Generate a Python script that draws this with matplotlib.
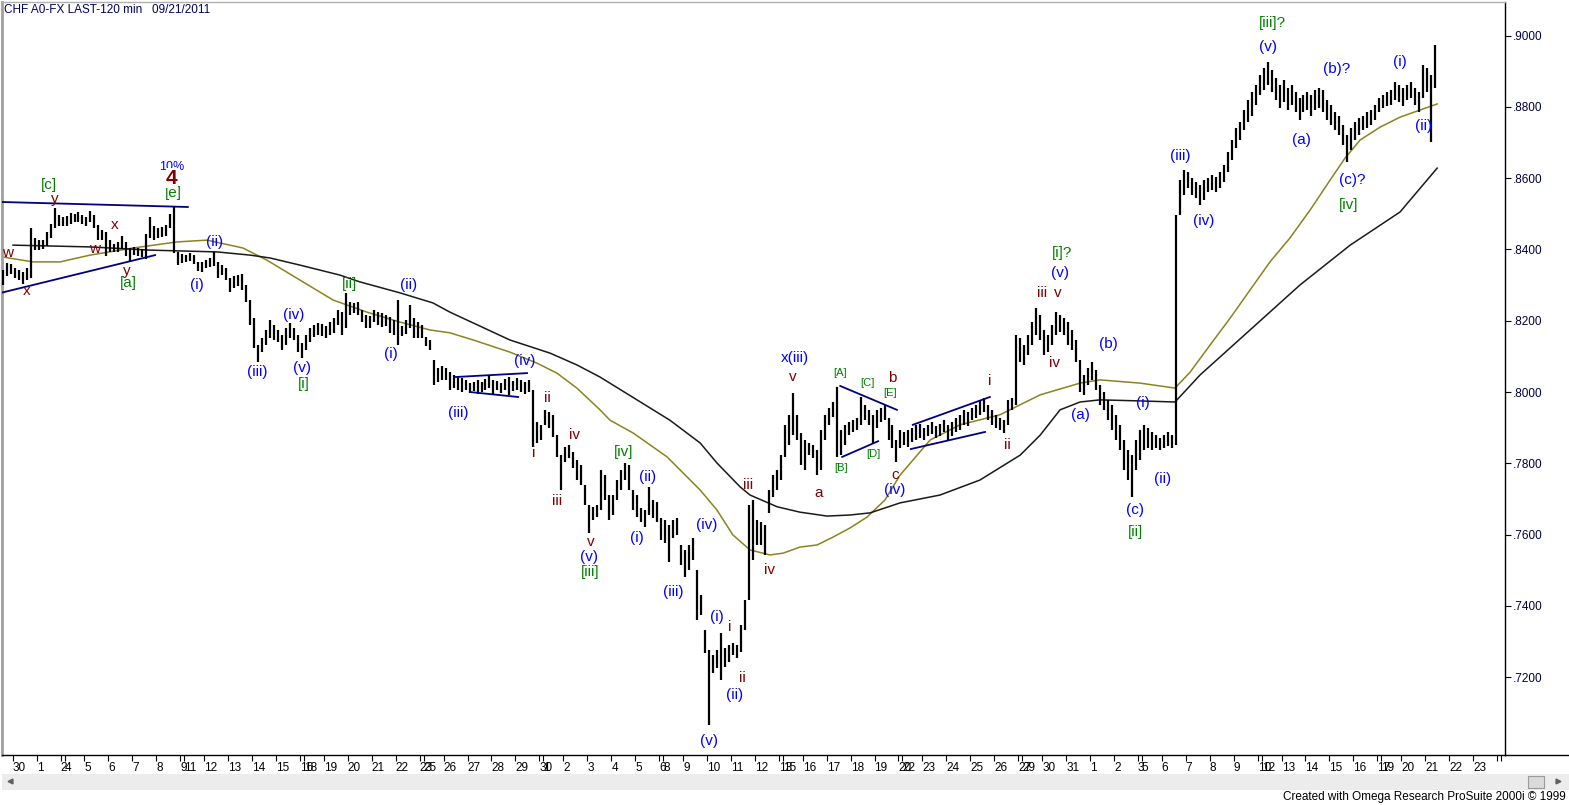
import datetime as dt
import numpy as np
import matplotlib
matplotlib.use('Agg')
import matplotlib.pyplot as plt
from matplotlib.lines import Line2D
from matplotlib.patches import Rectangle

plt.rcParams['font.family'] = ['Liberation Sans', 'DejaVu Sans']

# CHF 4-hour bars, prices in pips (x 0.0001)
bar_high = [
    8342, 8362, 8359, 8348, 8342, 8337, 8348, 8460, 8432, 8426,
    8426, 8449, 8471, 8516, 8497, 8491, 8494, 8502, 8499, 8505,
    8497, 8491, 8508, 8497, 8468, 8454, 8449, 8426, 8415, 8421,
    8438, 8421, 8404, 8407, 8404, 8401, 8443, 8491, 8466, 8460,
    8463, 8468, 8499, 8519, 8393, 8387, 8384, 8390, 8384, 8365,
    8365, 8370, 8376, 8393, 8365, 8356, 8348, 8320, 8325, 8328,
    8331, 8300, 8258, 8208, 8132, 8152, 8174, 8202, 8188, 8174,
    8160, 8180, 8194, 8180, 8160, 8138, 8160, 8180, 8188, 8194,
    8191, 8185, 8196, 8208, 8230, 8224, 8278, 8253, 8250, 8253,
    8230, 8216, 8213, 8230, 8224, 8222, 8216, 8210, 8202, 8258,
    8185, 8202, 8244, 8208, 8196, 8188, 8154, 8146, 8090, 8067,
    8073, 8067, 8056, 8048, 8045, 8039, 8034, 8025, 8028, 8034,
    8028, 8037, 8048, 8034, 8031, 8025, 8037, 8042, 8031, 8039,
    8034, 8028, 8034, 8006, 7916, 7908, 7950, 7944, 7936, 7879,
    7823, 7846, 7851, 7832, 7809, 7795, 7739, 7683, 7677, 7683,
    7781, 7767, 7711, 7711, 7753, 7781, 7801, 7795, 7725, 7711,
    7675, 7669, 7734, 7697, 7691, 7647, 7641, 7627, 7641, 7647,
    7571, 7557, 7571, 7591, 7501, 7431, 7332, 7276, 7262, 7276,
    7324, 7282, 7290, 7296, 7290, 7346, 7417, 7683, 7697, 7641,
    7635, 7627, 7725, 7767, 7781, 7823, 7908, 7936, 7997, 7936,
    7885, 7865, 7857, 7851, 7837, 7893, 7936, 7955, 7972, 8014,
    7893, 7908, 7916, 7921, 7927, 7986, 7964, 7950, 7936, 7950,
    7955, 7964, 7927, 7908, 7865, 7893, 7888, 7893, 7899, 7908,
    7910, 7899, 7908, 7916, 7905, 7910, 7921, 7908, 7916, 7927,
    7936, 7950, 7944, 7955, 7964, 7978, 7983, 7964, 7950, 7936,
    7927, 7921, 7978, 7983, 8160, 8152, 8132, 8160, 8196, 8236,
    8216, 8174, 8160, 8188, 8224, 8216, 8208, 8196, 8174, 8146,
    8090, 8048, 8067, 8084, 8062, 8020, 8000, 7978, 7964, 7936,
    7908, 7865, 7837, 7823, 7865, 7893, 7908, 7899, 7888, 7879,
    7871, 7879, 7888, 7879, 8497, 8595, 8623, 8617, 8600, 8589,
    8581, 8595, 8600, 8609, 8603, 8617, 8637, 8673, 8707, 8741,
    8757, 8791, 8819, 8842, 8861, 8889, 8909, 8926, 8903, 8881,
    8861, 8875, 8853, 8861, 8842, 8825, 8833, 8842, 8833, 8847,
    8853, 8847, 8819, 8805, 8785, 8775, 8749, 8721, 8741, 8757,
    8769, 8775, 8785, 8791, 8805, 8825, 8833, 8842, 8847, 8870,
    8861, 8853, 8861, 8870, 8853, 8842, 8917, 8909, 8889, 8973,
]
bar_low = [
    8300, 8325, 8331, 8320, 8314, 8303, 8314, 8320, 8398, 8398,
    8401, 8410, 8432, 8460, 8466, 8466, 8466, 8471, 8477, 8477,
    8471, 8466, 8477, 8460, 8426, 8426, 8381, 8393, 8393, 8393,
    8401, 8381, 8365, 8384, 8381, 8379, 8373, 8432, 8426, 8432,
    8435, 8438, 8460, 8390, 8356, 8362, 8365, 8368, 8359, 8339,
    8337, 8348, 8351, 8353, 8320, 8328, 8314, 8281, 8292, 8297,
    8286, 8253, 8188, 8123, 8084, 8112, 8132, 8152, 8146, 8140,
    8118, 8132, 8152, 8146, 8112, 8095, 8118, 8140, 8154, 8160,
    8157, 8152, 8160, 8166, 8188, 8160, 8180, 8216, 8222, 8216,
    8196, 8180, 8180, 8196, 8188, 8182, 8185, 8166, 8160, 8132,
    8157, 8163, 8180, 8152, 8152, 8152, 8129, 8118, 8020, 8028,
    8034, 8034, 8006, 8011, 8006, 8000, 8006, 7997, 8003, 7994,
    8000, 8006, 8011, 7994, 8006, 7997, 8006, 7992, 8003, 8006,
    8000, 7994, 8000, 7846, 7857, 7865, 7908, 7899, 7874, 7818,
    7725, 7804, 7815, 7787, 7753, 7739, 7683, 7604, 7641, 7649,
    7669, 7697, 7641, 7655, 7697, 7725, 7753, 7725, 7669, 7649,
    7635, 7621, 7655, 7647, 7635, 7585, 7576, 7523, 7591, 7599,
    7515, 7481, 7501, 7529, 7360, 7374, 7268, 7066, 7212, 7226,
    7192, 7229, 7243, 7262, 7254, 7271, 7332, 7417, 7529, 7571,
    7571, 7543, 7661, 7706, 7725, 7753, 7818, 7851, 7879, 7865,
    7795, 7781, 7823, 7815, 7767, 7781, 7865, 7908, 7930, 7818,
    7823, 7851, 7879, 7888, 7893, 7908, 7921, 7908, 7857, 7899,
    7916, 7921, 7865, 7843, 7804, 7843, 7851, 7846, 7860, 7865,
    7871, 7865, 7877, 7882, 7871, 7877, 7888, 7865, 7877, 7888,
    7893, 7908, 7905, 7921, 7927, 7936, 7944, 7921, 7908, 7899,
    7893, 7885, 7908, 7950, 7964, 8084, 8076, 8104, 8132, 8160,
    8146, 8104, 8112, 8132, 8160, 8168, 8160, 8132, 8118, 8084,
    8000, 7992, 8020, 8034, 8006, 7964, 7950, 7921, 7893, 7865,
    7837, 7781, 7753, 7706, 7781, 7809, 7837, 7843, 7837, 7843,
    7837, 7843, 7849, 7843, 7851, 8497, 8553, 8572, 8553, 8544,
    8525, 8539, 8561, 8567, 8561, 8572, 8589, 8617, 8651, 8684,
    8707, 8735, 8757, 8775, 8805, 8833, 8847, 8861, 8842, 8819,
    8797, 8814, 8791, 8805, 8785, 8763, 8785, 8791, 8775, 8791,
    8797, 8785, 8763, 8749, 8735, 8721, 8693, 8645, 8679, 8707,
    8721, 8735, 8741, 8749, 8763, 8785, 8797, 8802, 8805, 8819,
    8814, 8802, 8819, 8825, 8805, 8785, 8825, 8842, 8701, 8853,
]

# moving averages, sampled (x in 4h bars, price)
fast_ma_x = [0.3, 8.1, 14.9, 22.4, 33.2, 44.2, 51.7, 60.7, 66.7, 75.0, 83.3, 91.8,
             100.1, 107.6, 112.6, 118.4, 127.6, 134.4, 139.4, 144.4, 150.2, 152.7,
             158.5, 167.0, 175.3, 179.5, 183.5, 187.8, 192.8, 196.1, 200.3, 204.6,
             208.6, 212.9, 217.1, 221.6, 225.4, 232.9, 240.4, 250.4, 260.5, 270.5,
             275.5, 285.5, 294.3, 298.1, 303.1, 308.1, 313.1, 318.1, 323.1, 328.2,
             333.2, 336.9, 340.7, 345.7, 350.7, 355.7, 360.0]
fast_ma = [8379, 8365, 8365, 8384, 8404, 8421, 8426, 8404, 8370, 8314, 8258, 8224,
           8196, 8174, 8166, 8146, 8112, 8081, 8053, 8011, 7950, 7921,
           7885, 7818, 7725, 7669, 7599, 7557, 7543, 7548, 7565, 7571,
           7593, 7619, 7649, 7697, 7767, 7865, 7908, 7936, 7992, 8025,
           8034, 8025, 8011, 8056, 8132, 8207, 8286, 8365, 8432, 8511,
           8595, 8656, 8707, 8743, 8771, 8791, 8808]
slow_ma_x = [3.1, 22.4, 37.4, 54.2, 62.5, 67.5, 75.0, 85.0, 90.0, 100.1, 108.3, 112.6,
             127.6, 137.7, 144.4, 150.2, 167.7, 175.3, 179.5, 185.3, 187.8, 194.6,
             200.3, 207.1, 212.9, 217.9, 225.4, 235.4, 245.4, 255.5, 260.5, 265.5,
             270.5, 275.5, 285.5, 294.3, 300.6, 313.1, 325.6, 338.2, 350.7, 360.0]
slow_ma = [8412, 8407, 8398, 8393, 8384, 8376, 8356, 8328, 8309, 8278, 8250, 8224,
           8146, 8109, 8076, 8042, 7921, 7857, 7801, 7734, 7711, 7678,
           7663, 7652, 7655, 7661, 7689, 7711, 7753, 7823, 7879, 7950,
           7972, 7978, 7975, 7972, 8048, 8174, 8300, 8412, 8505, 8628]

price_ticks = [0.72, 0.74, 0.76, 0.78, 0.80, 0.82, 0.84, 0.86, 0.88, 0.90]

first_day = dt.date(2011, 6, 29)
bars_first_day = 3
last_label_day = dt.date(2011, 9, 23)
last_tick_day = dt.date(2011, 9, 26)

# trend lines: x0, p0, x1, p1
trend_lines = [
    (0.3, 0.8533, 46.9, 0.8519),
    (0.0, 0.8278, 38.7, 0.8384),
    (113.9, 0.8042, 131.9, 0.8053),
    (117.6, 0.8000, 129.7, 0.7986),
    (210.4, 0.8017, 224.6, 0.7950),
    (210.9, 0.7818, 219.9, 0.7862),
    (228.6, 0.7908, 247.9, 0.7986),
    (228.1, 0.7840, 246.7, 0.7888),
]

# wave labels: x, price, text, style
wave_labels = [
    (12.1, 0.8581, '[c]', 'g'), (13.6, 0.8541, 'y', 'r'), (1.8, 0.8390, 'w', 'r'),
    (6.6, 0.8283, 'x', 'r'), (28.6, 0.8468, 'x', 'r'), (23.6, 0.8401, 'w', 'r'),
    (31.7, 0.8339, 'y', 'r'), (31.9, 0.8306, '[a]', 'g'),
    (42.9, 0.8631, '10%', 'pct'), (42.9, 0.8600, '4', 'big'), (43.2, 0.8558, '[e]', 'g'),
    (53.7, 0.8421, '(ii)', 'b'), (49.2, 0.8300, '(i)', 'b'), (64.2, 0.8056, '(iii)', 'b'),
    (73.5, 0.8216, '(iv)', 'b'), (75.5, 0.8067, '(v)', 'b'), (76.0, 0.8022, '[i]', 'g'),
    (87.3, 0.8303, '[ii]', 'g'), (102.1, 0.8300, '(ii)', 'b'), (97.8, 0.8106, '(i)', 'b'),
    (114.6, 0.7941, '(iii)', 'b'), (131.4, 0.8087, '(iv)', 'b'),
    (136.9, 0.7983, 'ii', 'r'), (133.7, 0.7829, 'i', 'r'), (143.9, 0.7879, 'iv', 'r'),
    (139.4, 0.7694, 'iii', 'r'), (147.9, 0.7579, 'v', 'r'), (147.4, 0.7537, '(v)', 'b'),
    (147.7, 0.7495, '[iii]', 'g'), (156.0, 0.7832, '[iv]', 'g'), (162.2, 0.7762, '(ii)', 'b'),
    (159.5, 0.7590, '(i)', 'b'), (168.5, 0.7439, '(iii)', 'b'), (177.0, 0.7627, '(iv)', 'b'),
    (179.5, 0.7369, '(i)', 'b'), (182.8, 0.7341, 'i', 'r'), (185.8, 0.7198, 'ii', 'r'),
    (184.0, 0.7150, '(ii)', 'b'), (177.5, 0.7021, '(v)', 'b'), (187.3, 0.7739, 'iii', 'r'),
    (192.6, 0.7501, 'iv', 'r'), (199.1, 0.8095, 'x(iii)', 'b'), (198.6, 0.8042, 'v', 'r'),
    (210.4, 0.8053, '[A]', 's'), (217.1, 0.8025, '[C]', 's'), (223.4, 0.8039, 'b', 'r'),
    (222.9, 0.7997, '[E]', 's'), (210.6, 0.7787, '[B]', 's'), (218.6, 0.7826, '[D]', 's'),
    (205.1, 0.7717, 'a', 'r'), (224.1, 0.7767, 'c', 'r'), (224.1, 0.7725, '(iv)', 'b'),
    (247.9, 0.8031, 'i', 'r'), (252.2, 0.7851, 'ii', 'r'), (266.0, 0.8390, '[i]?', 'g'),
    (265.5, 0.8334, '(v)', 'b'), (261.0, 0.8278, 'iii', 'r'), (265.0, 0.8278, 'v', 'r'),
    (264.2, 0.8081, 'iv', 'r'), (277.5, 0.8135, '(b)', 'b'), (270.5, 0.7936, '(a)', 'b'),
    (286.3, 0.7969, '(i)', 'b'), (291.1, 0.7756, '(ii)', 'b'), (284.3, 0.7669, '(c)', 'b'),
    (284.5, 0.7607, '[ii]', 'g'), (295.6, 0.8662, '(iii)', 'b'), (301.6, 0.8480, '(iv)', 'b'),
    (318.6, 0.9035, '[iii]?', 'g'), (317.6, 0.8968, '(v)', 'b'), (326.1, 0.8707, '(a)', 'b'),
    (334.9, 0.8906, '(b)?', 'b'), (338.7, 0.8595, '(c)?', 'b'), (337.9, 0.8525, '[iv]', 'g'),
    (350.7, 0.8926, '(i)', 'b'), (356.7, 0.8746, '(ii)', 'b'),
]

styles = {
    'b': dict(color='#0000ff', fontsize=11),
    'r': dict(color='#800000', fontsize=11),
    'g': dict(color='#008000', fontsize=11),
    's': dict(color='#008000', fontsize=8),
    'pct': dict(color='#0000ff', fontsize=9),
    'big': dict(color='#800000', fontsize=15, fontweight='bold'),
}


def day_ticks():
    pos, names = [], []
    x = 0
    d = first_day
    while d <= last_tick_day:
        wd = d.weekday()
        if wd != 6:
            if d == first_day:
                n = bars_first_day
            else:
                pos.append(x)
                names.append(str(d.day) if d <= last_label_day else '')
                n = {0: 5, 5: 1}.get(wd, 6)
            x += n
        d += dt.timedelta(days=1)
    return pos, names


W, H = 1569, 805
fig = plt.figure(figsize=(W / 100, H / 100), dpi=100)
fig.patch.set_facecolor('white')
ax = fig.add_axes([2 / W, 50 / H, 1503 / W, 753 / H])

hi = np.array(bar_high) / 1e4
lo = np.array(bar_low) / 1e4
xs = np.arange(len(hi)) + 0.5
ax.vlines(xs, lo, hi, color='black', lw=1.6, zorder=3)

ax.plot(fast_ma_x, np.array(fast_ma) / 1e4, color='#8a8420', lw=1.1, zorder=2)
ax.plot(slow_ma_x, np.array(slow_ma) / 1e4, color='#1a1a1a', lw=1.1, zorder=2)

for x0, p0, x1, p1 in trend_lines:
    ax.plot([x0, x1], [p0, p1], color='#000080', lw=1.3, zorder=4)

for x, p, txt, st in wave_labels:
    kw = dict(styles[st])
    if st == 'big':
        kw['bbox'] = dict(facecolor='white', edgecolor='none', pad=0.2)
    ax.text(x, p, txt, ha='center', va='center', zorder=6 if st == 'big' else 5, **kw)

ax.set_xlim(0.33, 377.0)
ax.set_ylim(0.69818, 0.90940)

pos, names = day_ticks()
ax.set_xticks(pos)
ax.set_xticklabels(names, ha='left')
ax.tick_params(axis='x', direction='out', length=4, width=0.8, pad=1, labelsize=8.5)

ax.yaxis.tick_right()
ax.set_yticks(price_ticks)
ax.set_yticklabels([('%.4f' % v)[1:] for v in price_ticks])
ax.tick_params(axis='y', direction='out', length=4, width=0.8, pad=1.5, labelsize=8.5,
               labelcolor='#000040')

for s in ['right', 'bottom']:
    ax.spines[s].set_color('black')
    ax.spines[s].set_linewidth(1.0)
ax.spines['left'].set_color('#a0a0a0')
ax.spines['left'].set_linewidth(2.0)
ax.spines['top'].set_color('#b0b0b0')
ax.spines['top'].set_linewidth(1.0)

# bottom axis line runs on under the price scale
fig.add_artist(Line2D([1505 / W, 1.0], [50 / H, 50 / H], color='black', lw=1.0))

fig.text(4 / W, 1 - 10 / H, 'CHF A0-FX LAST-120 min   09/21/2011', ha='left', va='center',
         fontsize=8.5, color='#000060')

# scroll bar strip
fig.add_artist(Rectangle((2 / W, 15 / H), 1 - 2 / W, 16 / H, transform=fig.transFigure,
                         facecolor='#ececec', edgecolor='none'))
fig.add_artist(Rectangle((1528 / W, 17 / H), 16 / W, 12 / H, transform=fig.transFigure,
                         facecolor='#dadada', edgecolor='#9a9a9a', lw=0.8))
fig.add_artist(Line2D([10 / W], [24 / H], marker='<', ms=3.5, color='#606060', lw=0))
fig.add_artist(Line2D([1558 / W], [24 / H], marker='>', ms=3.5, color='#606060', lw=0))

fig.text(1566 / W, 8 / H, 'Created with Omega Research ProSuite 2000i \u00a9 1999',
         ha='right', va='center', fontsize=8.5, color='black')

fig.savefig('out.png', dpi=100, facecolor='white')
